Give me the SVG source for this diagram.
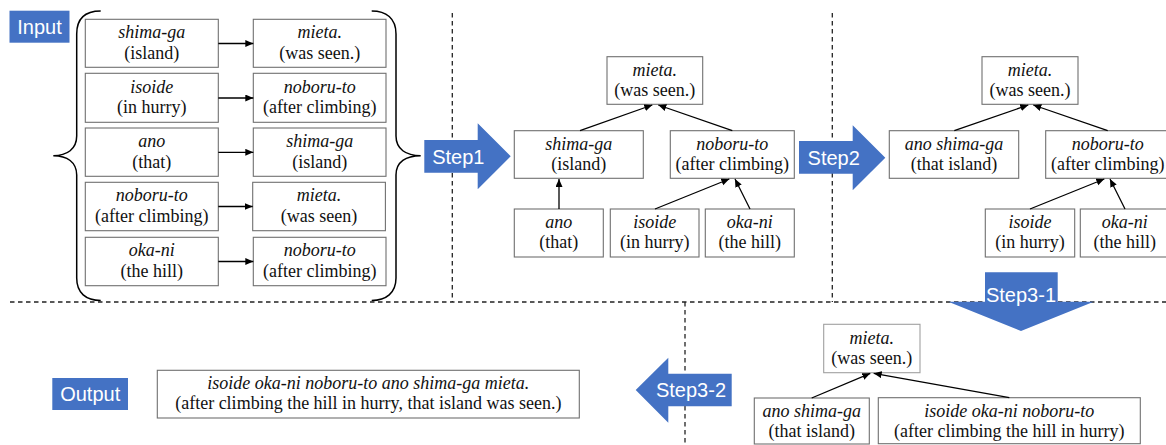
<svg xmlns="http://www.w3.org/2000/svg" width="1166" height="445" viewBox="0 0 1166 445">
<defs>
<marker id="ah" markerUnits="userSpaceOnUse" markerWidth="9" markerHeight="8" refX="8" refY="3.5" orient="auto">
<path d="M0,0 L8,3.5 L0,7 z" fill="#000"/>
</marker>
<style>
.box{fill:#fff;stroke:#707070;stroke-width:1.1}
.lt{stroke:#a0a0a0}
.it{font-family:'Liberation Serif','Times New Roman',serif;font-style:italic;font-size:18px;text-anchor:middle;fill:#111}
.rm{font-family:'Liberation Serif','Times New Roman',serif;font-size:18px;text-anchor:middle;fill:#111}
.lab{fill:#4472C4}
.lt2{font-family:'Liberation Sans',Arial,sans-serif;font-size:20px;fill:#fff;text-anchor:middle}
.dash{stroke:#222;stroke-width:1.3;stroke-dasharray:4.5 3.5;fill:none}
.con{stroke:#000;stroke-width:1.3;fill:none;marker-end:url(#ah)}
.brace{stroke:#000;stroke-width:1.5;fill:none}
</style>
</defs>
<rect width="1166" height="445" fill="#fff"/>

<g id="dividers">
<line class="dash" x1="452.3" y1="13" x2="452.3" y2="302"/>
<line class="dash" x1="832.3" y1="13" x2="832.3" y2="302"/>
<line class="dash" x1="10" y1="302" x2="1166" y2="302"/>
<line class="dash" x1="685" y1="302" x2="685" y2="445"/>
</g>

<g id="braces">
<path class="brace" d="M100.7,11 C86,11 76.7,18 76.7,34 L76.7,136 C76.7,149 67,155.7 53.3,155.7 C67,155.7 76.7,162 76.7,175 L76.7,278 C76.7,293 86,300.4 100.7,300.4"/>
<path class="brace" d="M371.7,11 C386,11 396,18 396,34 L396,136 C396,149 406,155.7 420.7,155.7 C406,155.7 396,162 396,175 L396,278 C396,293 386,300.4 371.7,300.4"/>
</g>

<g font-family="Liberation Sans, Arial, sans-serif">
<g id="input-label"><rect class="lab" x="9.5" y="10.7" width="60" height="32"/><text class="lt2" x="39.5" y="33.7">Input</text></g>
<g id="output-label"><rect class="lab" x="52.3" y="378" width="75.7" height="32"/><text class="lt2" x="90.2" y="401">Output</text></g>
<g id="step1"><polygon class="lab" points="424.3,140 477.7,140 477.7,123.3 510.7,156.3 477.7,189.3 477.7,172.7 424.3,172.7"/><text class="lt2" x="458.3" y="163.5">Step1</text></g>
<g id="step2"><polygon class="lab" points="799,141 852.7,141 852.7,125.3 885.3,157.7 852.7,190.3 852.7,173.7 799,173.7"/><text class="lt2" x="833.7" y="164.6">Step2</text></g>
<g id="step3-1"><polygon class="lab" points="985,272.3 1057.7,272.3 1057.7,301.7 1093.7,301.7 1021,331 948.3,301.7 985,301.7"/><text class="lt2" x="1021" y="301.5">Step3-1</text></g>
<g id="step3-2"><polygon class="lab" points="731.7,373.7 668.3,373.7 668.3,357.7 635.7,390 668.3,422.7 668.3,406.3 731.7,406.3"/><text class="lt2" x="691" y="397">Step3-2</text></g>
</g>

<g font-family="Liberation Serif, Times New Roman, serif">
<g id="in-l1"><rect class="box" x="85.3" y="19.3" width="133" height="48"/><text class="it" x="151.8" y="38.3">shima-ga</text><text class="rm" x="151.8" y="58.8">(island)</text></g>
<g id="in-r1"><rect class="box" x="253.3" y="19.3" width="132.7" height="48"/><text class="it" x="319.7" y="38.3">mieta.</text><text class="rm" x="319.7" y="58.8">(was seen.)</text></g>
<g id="in-l2"><rect class="box" x="85.3" y="73.3" width="133" height="49"/><text class="it" x="151.8" y="92.5">isoide</text><text class="rm" x="151.8" y="113">(in hurry)</text></g>
<g id="in-r2"><rect class="box" x="253.3" y="73.3" width="132.7" height="49"/><text class="it" x="319.7" y="92.5">noboru-to</text><text class="rm" x="319.7" y="113">(after climbing)</text></g>
<g id="in-l3"><rect class="box" x="85.3" y="128" width="133" height="48.3"/><text class="it" x="151.8" y="147">ano</text><text class="rm" x="151.8" y="167.5">(that)</text></g>
<g id="in-r3"><rect class="box" x="253.3" y="128" width="132.7" height="48.3"/><text class="it" x="319.7" y="147">shima-ga</text><text class="rm" x="319.7" y="167.5">(island)</text></g>
<g id="in-l4"><rect class="box" x="85.3" y="182.3" width="133" height="48.4"/><text class="it" x="151.8" y="201.3">noboru-to</text><text class="rm" x="151.8" y="221.8">(after climbing)</text></g>
<g id="in-r4"><rect class="box" x="252.7" y="182.3" width="132.7" height="48.4"/><text class="it" x="319" y="201.3">mieta.</text><text class="rm" x="319" y="221.8">(was seen)</text></g>
<g id="in-l5"><rect class="box" x="85.3" y="237.3" width="133" height="48.4"/><text class="it" x="151.8" y="256.3">oka-ni</text><text class="rm" x="151.8" y="276.8">(the hill)</text></g>
<g id="in-r5"><rect class="box" x="253.3" y="237.3" width="132.7" height="48.4"/><text class="it" x="319.7" y="256.3">noboru-to</text><text class="rm" x="319.7" y="276.8">(after climbing)</text></g>

<g id="s1-mieta"><rect class="box" x="607" y="56.7" width="95.7" height="47.6"/><text class="it" x="654.8" y="76">mieta.</text><text class="rm" x="654.8" y="96">(was seen.)</text></g>
<g id="s1-shimaga"><rect class="box" x="514.3" y="130.7" width="129" height="47.6"/><text class="it" x="578.8" y="150">shima-ga</text><text class="rm" x="578.8" y="170">(island)</text></g>
<g id="s1-noboruto"><rect class="box" x="670.3" y="130.7" width="124" height="47.6"/><text class="it" x="732.3" y="150">noboru-to</text><text class="rm" x="732.3" y="170">(after climbing)</text></g>
<g id="s1-ano"><rect class="box" x="514.3" y="209" width="89" height="48"/><text class="it" x="558.8" y="228.3">ano</text><text class="rm" x="558.8" y="248.3">(that)</text></g>
<g id="s1-isoide"><rect class="box" x="610.3" y="209" width="88.7" height="48"/><text class="it" x="654.7" y="228.3">isoide</text><text class="rm" x="654.7" y="248.3">(in hurry)</text></g>
<g id="s1-okani"><rect class="box" x="705.3" y="209" width="89" height="48"/><text class="it" x="749.8" y="228.3">oka-ni</text><text class="rm" x="749.8" y="248.3">(the hill)</text></g>

<g id="s2-mieta"><rect class="box" x="982" y="56.7" width="96" height="47.6"/><text class="it" x="1030" y="76">mieta.</text><text class="rm" x="1030" y="96">(was seen.)</text></g>
<g id="s2-anoshimaga"><rect class="box" x="889.3" y="130.7" width="129.4" height="47.6"/><text class="it" x="954" y="150">ano shima-ga</text><text class="rm" x="954" y="170">(that island)</text></g>
<g id="s2-noboruto"><rect class="box" x="1045.7" y="130.7" width="124" height="47.6"/><text class="it" x="1107.7" y="150">noboru-to</text><text class="rm" x="1107.7" y="170">(after climbing)</text></g>
<g id="s2-isoide"><rect class="box" x="985.3" y="209" width="89.4" height="48"/><text class="it" x="1030" y="228.3">isoide</text><text class="rm" x="1030" y="248.3">(in hurry)</text></g>
<g id="s2-okani"><rect class="box" x="1080.3" y="209" width="89" height="48"/><text class="it" x="1124.8" y="228.3">oka-ni</text><text class="rm" x="1124.8" y="248.3">(the hill)</text></g>

<g id="s3-mieta"><rect class="box lt" x="823.7" y="324.3" width="96.3" height="48.4"/><text class="it" x="871.8" y="343.5">mieta.</text><text class="rm" x="871.8" y="363.5">(was seen.)</text></g>
<g id="s3-anoshimaga"><rect class="box" x="754.3" y="398" width="115" height="46"/><text class="it" x="811.8" y="416.8">ano shima-ga</text><text class="rm" x="811.8" y="436.8">(that island)</text></g>
<g id="s3-rest"><rect class="box" x="878.3" y="397.7" width="262" height="46"/><text class="it" x="1009.3" y="416.8">isoide oka-ni noboru-to</text><text class="rm" x="1009.3" y="436.8">(after climbing the hill in hurry)</text></g>

<g id="output"><rect class="box" x="157.3" y="370.3" width="422" height="47.7"/><text class="it" x="368.3" y="388.5">isoide oka-ni noboru-to ano shima-ga mieta.</text><text class="rm" x="368.3" y="409.3">(after climbing the hill in hurry, that island was seen.)</text></g>
</g>

<g id="connectors">
<line class="con" x1="218.3" y1="43.5" x2="253.3" y2="43.5"/>
<line class="con" x1="218.3" y1="98" x2="253.3" y2="98"/>
<line class="con" x1="218.3" y1="152.3" x2="253.3" y2="152.3"/>
<line class="con" x1="218.3" y1="206.5" x2="252.7" y2="206.5"/>
<line class="con" x1="218.3" y1="261.5" x2="253.3" y2="261.5"/>
<line class="con" x1="580" y1="130.7" x2="652.3" y2="105"/>
<line class="con" x1="732.3" y1="130.7" x2="658.3" y2="105"/>
<line class="con" x1="559" y1="209" x2="559" y2="179"/>
<line class="con" x1="655" y1="209" x2="729.3" y2="179"/>
<line class="con" x1="750" y1="209" x2="735" y2="179"/>
<line class="con" x1="954.3" y1="130.7" x2="1028.3" y2="105"/>
<line class="con" x1="1107.7" y1="130.7" x2="1033.3" y2="105"/>
<line class="con" x1="1030" y1="209" x2="1104.3" y2="179"/>
<line class="con" x1="1125" y1="209" x2="1110" y2="179"/>
<line class="con" x1="811.7" y1="398" x2="870.3" y2="373.3"/>
<line class="con" x1="1009.3" y1="397.7" x2="873.7" y2="373.3"/>
</g>
</svg>
